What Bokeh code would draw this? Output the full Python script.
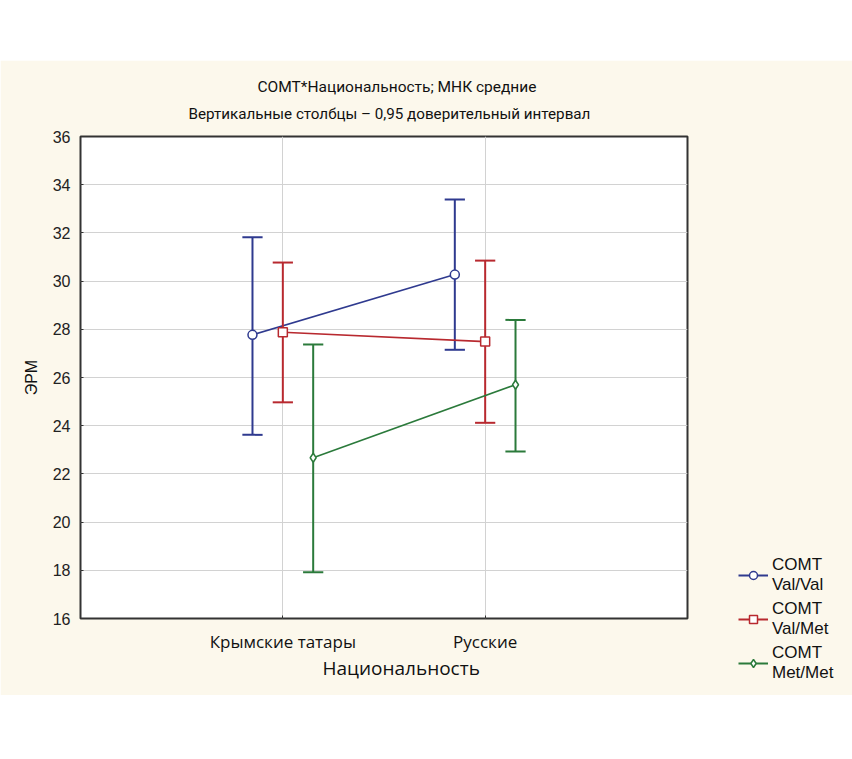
from bokeh.plotting import figure
from bokeh.models import (ColumnDataSource, Legend, LegendItem,
                          FixedTicker, Spacer, Title)
from bokeh.layouts import column
from bokeh.embed import file_html
from bokeh.resources import INLINE

# ---------------- data ----------------
categories = ["Крымские татары", "Русские"]
groups = ["COMT\nVal/Val", "COMT\nVal/Met", "COMT\nMet/Met"]

val_val_mean = [27.77, 30.27]
val_val_low = [23.62, 27.15]
val_val_high = [31.82, 33.39]

val_met_mean = [27.88, 27.49]
val_met_low = [24.97, 24.12]
val_met_high = [30.77, 30.85]

met_met_mean = [22.67, 25.70]
met_met_low = [17.92, 22.93]
met_met_high = [27.37, 28.39]

y_ticks = [16, 18, 20, 22, 24, 26, 28, 30, 32, 34, 36]

title_1 = "COMT*Национальность; МНК средние"
title_2 = "Вертикальные столбцы – 0,95 доверительный интервал"
x_title = "Национальность"
y_title = "ЭРМ"

# ---------------- style ----------------
CREAM = "#fcf8ec"
colors = ["#2f3a8f", "#b8292f", "#2b7a3b"]
markers = ["circle", "square", "diamond"]
marker_sizes = [9, 9, 9]
offsets = [-0.15, 0.0, 0.15]
cap = 0.05
TITLE_FONT = "Roboto"

series = [
    (val_val_mean, val_val_low, val_val_high),
    (val_met_mean, val_met_low, val_met_high),
    (met_met_mean, met_met_low, met_met_high),
]

p = figure(
    frame_width=607, frame_height=482,
    width=852, height=635,
    x_range=(0, 3), y_range=(16, 36),
    output_backend="svg", toolbar_location=None,
    min_border_left=80, min_border_right=165,
    min_border_top=76, min_border_bottom=77,
    background_fill_color="white", border_fill_color=CREAM,
)
p.outline_line_color = "#333333"
p.outline_line_width = 2

# grids
p.xgrid.ticker = FixedTicker(ticks=[1, 2])
p.ygrid.ticker = FixedTicker(ticks=y_ticks)
p.grid.grid_line_color = "#d2d2d2"
p.grid.grid_line_width = 1

# axes
p.xaxis.ticker = FixedTicker(ticks=[1, 2])
p.xaxis.major_label_overrides = {i + 1: c for i, c in enumerate(categories)}
p.yaxis.ticker = FixedTicker(ticks=y_ticks)
for ax in (p.xaxis[0], p.yaxis[0]):
    ax.axis_line_color = None
    ax.major_tick_line_color = "#333333"
    ax.major_tick_in = 3
    ax.major_tick_out = 0
    ax.minor_tick_line_color = None
p.xaxis.major_label_text_font = "Open Sans"
p.xaxis.major_label_text_font_size = "17px"
p.xaxis.major_label_text_color = "#111111"
p.xaxis.major_label_standoff = 11
p.yaxis.major_label_text_font = "Liberation Sans"
p.yaxis.major_label_text_font_size = "16px"
p.yaxis.major_label_text_color = "#222222"
p.yaxis.major_label_standoff = 10
p.yaxis.axis_label = y_title
p.yaxis.axis_label_text_font = "Liberation Sans"
p.yaxis.axis_label_text_font_size = "16px"
p.yaxis.axis_label_text_font_style = "normal"
p.yaxis.axis_label_text_color = "#111111"
p.yaxis.axis_label_standoff = 10

legend_items = []
for k, ((mean, low, high), col, mk, ms, off) in enumerate(
        zip(series, colors, markers, marker_sizes, offsets)):
    xs = [i + 1 + off for i in range(len(categories))]
    src = ColumnDataSource(dict(
        x=xs, mean=mean, low=low, high=high,
        xl=[x - cap for x in xs], xr=[x + cap for x in xs],
    ))
    p.line("x", "mean", source=src, line_color=col, line_width=1.6)
    bars = p.segment(x0="x", y0="low", x1="x", y1="high", source=src,
                     line_color=col, line_width=2)
    p.segment(x0="xl", y0="low", x1="xr", y1="low", source=src,
              line_color=col, line_width=2)
    p.segment(x0="xl", y0="high", x1="xr", y1="high", source=src,
              line_color=col, line_width=2)
    pts = p.scatter("x", "mean", source=src, marker=mk, size=ms,
                    line_color=col, line_width=1.5, fill_color="white")
    legend_items.append(LegendItem(label=groups[k], renderers=[bars, pts]))

legend = Legend(
    items=legend_items, location=(51, -67),
    background_fill_alpha=0, border_line_alpha=0,
    padding=0, margin=0, spacing=0,
    glyph_width=30, glyph_height=20, label_standoff=4,
    label_height=44,
    label_text_font="Liberation Sans", label_text_font_size="17px",
    label_text_color="#111111",
)
p.add_layout(legend, "right")

# titles (second line first: later ones stack further from the frame)
p.add_layout(Title(text=title_2, align="left", offset=108,
                   text_font=TITLE_FONT, text_font_size="15.2px",
                   text_font_style="normal", text_color="#111111",
                   standoff=27), "above")
p.add_layout(Title(text=title_1, align="left", offset=177,
                   text_font=TITLE_FONT, text_font_size="15.5px",
                   text_font_style="normal", text_color="#111111",
                   standoff=-12), "above")
p.add_layout(Title(text=x_title, align="left", offset=242,
                   text_font="Open Sans", text_font_size="19px",
                   text_font_style="normal", text_color="#111111",
                   standoff=-6), "below")

layout = column(Spacer(width=852, height=60), p, spacing=0)

open("out.html", "w").write(file_html(layout, INLINE))
